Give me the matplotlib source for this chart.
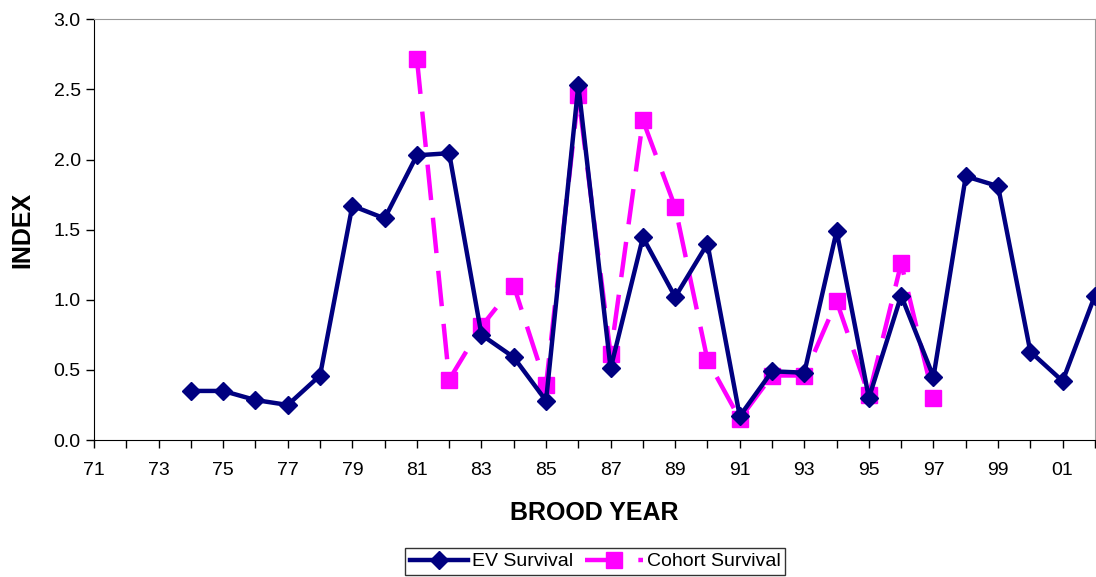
import matplotlib.pyplot as plt

plt.rcParams['font.family'] = ['Liberation Sans', 'DejaVu Sans']

# brood years (two-digit labels)
ev_years = list(range(1974, 2003))
ev_survival = [0.35, 0.35, 0.285, 0.25, 0.46, 1.67, 1.58, 2.03, 2.045, 0.75,
               0.59, 0.28, 2.53, 0.51, 1.445, 1.02, 1.40, 0.17, 0.49, 0.48,
               1.49, 0.30, 1.03, 0.45, 1.88, 1.81, 0.63, 0.42, 1.03]

cohort_years = list(range(1981, 1998))
cohort_survival = [2.72, 0.43, 0.81, 1.10, 0.39, 2.46, 0.61, 2.28, 1.66, 0.57,
                   0.15, 0.46, 0.46, 0.99, 0.32, 1.26, 0.30]

all_years = list(range(1971, 2003))
label_years = list(range(1971, 2003, 2))


def main():
    fig = plt.figure(figsize=(10.96, 5.77), dpi=100)
    ax = fig.add_axes([0.0858, 0.2374, 0.9132, 0.7292])

    navy = '#000080'
    magenta = '#FF00FF'

    ax.plot(ev_years, ev_survival, color=navy, lw=3.2, marker='D',
            markersize=9, label='EV Survival', zorder=3)
    ax.plot(cohort_years, cohort_survival, color=magenta, lw=3.2,
            dashes=(8, 4), marker='s', markersize=11,
            label='Cohort Survival', zorder=2)

    ax.set_xlim(1971, 2002)
    ax.set_ylim(0, 3.0)
    ax.set_xticks(all_years, minor=True)
    ax.set_xticks(label_years)
    ax.set_xticklabels(['%02d' % (y % 100) for y in label_years])
    ax.set_yticks([0, 0.5, 1.0, 1.5, 2.0, 2.5, 3.0])
    ax.set_yticklabels(['%.1f' % v for v in [0, 0.5, 1.0, 1.5, 2.0, 2.5, 3.0]])

    ax.tick_params(axis='both', which='both', direction='out', length=6,
                   width=1, labelsize=14, colors='black')
    ax.tick_params(axis='x', pad=10)

    for s in ['top', 'right']:
        ax.spines[s].set_color('#999999')
    for s in ['left', 'bottom']:
        ax.spines[s].set_color('black')

    ax.set_xlabel('BROOD YEAR', fontsize=18, fontweight='bold', labelpad=16)
    ax.set_ylabel('INDEX', fontsize=18, fontweight='bold', labelpad=14)

    leg = fig.legend(loc='upper center', bbox_to_anchor=(0.543, 0.0503),
                     borderaxespad=0, ncol=2, fontsize=14, frameon=True,
                     fancybox=False, edgecolor='black', borderpad=0.25,
                     handlelength=3, columnspacing=0.6, handletextpad=0.2)
    leg.get_frame().set_linewidth(1)

    fig.savefig('out.png', dpi=100)


if __name__ == '__main__':
    main()
